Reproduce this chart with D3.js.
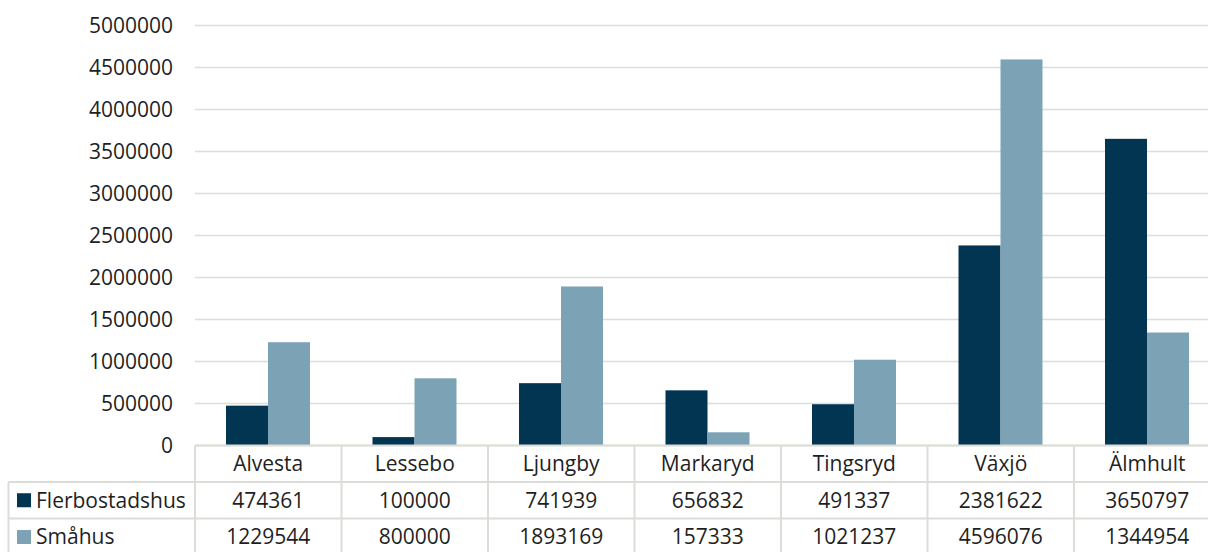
<!DOCTYPE html>
<html><head><meta charset="utf-8">
<script src="https://cdn.jsdelivr.net/npm/d3@7"></script>
<style>body{margin:0;background:#fff;overflow:hidden}svg{display:block}</style>
</head><body><svg id="c" width="1208" height="552"></svg>
<script>
const categories = ["Alvesta","Lessebo","Ljungby","Markaryd","Tingsryd","Växjö","Älmhult"];
const seriesNames = ["Flerbostadshus","Småhus"];
const flerbostadshus = [474361,100000,741939,656832,491337,2381622,3650797];
const smahus = [1229544,800000,1893169,157333,1021237,4596076,1344954];
const yTicks = [0,500000,1000000,1500000,2000000,2500000,3000000,3500000,4000000,4500000,5000000];
const colors = ["#023552","#7ca3b5"];
const seriesValues = [flerbostadshus, smahus];

const svg = d3.select("#c");
const font = "'Open Sans', sans-serif";
const fs = 21;
const textColor = "#1f1f1f";
const gridColor = "#dcdcd8";

const left = 195, cellW = 146.5;
const x = d3.scaleBand().domain(categories).range([left, left + cellW*categories.length]).padding(0);
const xs = d3.scaleBand().domain(seriesNames).range([31, cellW-31.5]).padding(0);
const y = d3.scaleLinear().domain([0,5000000]).range([445.5, 25.5]);

// gridlines
svg.append("g").selectAll("line").data(yTicks).join("line")
  .attr("x1", left).attr("x2", 1208)
  .attr("y1", d=>y(d)).attr("y2", d=>y(d))
  .attr("stroke", gridColor).attr("stroke-width", 1.5);

// y labels
svg.append("g").selectAll("text").data(yTicks).join("text")
  .attr("x", 173).attr("y", d=>y(d)).attr("dy","0.35em")
  .attr("text-anchor","end").attr("font-family",font).attr("font-size",fs)
  .attr("fill",textColor).text(d=>d);

// bars
seriesNames.forEach((s,si)=>{
  svg.append("g").selectAll("rect").data(categories).join("rect")
    .attr("x", c=>x(c)+xs(s)).attr("width", xs.bandwidth())
    .attr("y", (c,i)=>y(seriesValues[si][i]))
    .attr("height", (c,i)=>y(0)-y(seriesValues[si][i]))
    .attr("fill", colors[si]);
});

// table
const rowY = [445.5, 482, 518.5, 560];
const tg = svg.append("g");
tg.append("line").attr("x1",left).attr("x2",1208).attr("y1",rowY[0]).attr("y2",rowY[0]).attr("stroke",gridColor).attr("stroke-width",2);
[1,2].forEach(r=>tg.append("line").attr("x1",8.5).attr("x2",1208).attr("y1",rowY[r]).attr("y2",rowY[r]).attr("stroke",gridColor).attr("stroke-width",2));
tg.append("line").attr("x1",8.5).attr("x2",8.5).attr("y1",rowY[1]).attr("y2",552).attr("stroke",gridColor).attr("stroke-width",2);
categories.forEach(c=>{
  tg.append("line").attr("x1",x(c)).attr("x2",x(c)).attr("y1",rowY[0]).attr("y2",552).attr("stroke",gridColor).attr("stroke-width",2);
});
tg.selectAll("text.h").data(categories).join("text").attr("class","h")
  .attr("x", c=>x(c)+cellW/2).attr("y",(rowY[0]+rowY[1])/2).attr("dy","0.35em")
  .attr("text-anchor","middle").attr("font-family",font).attr("font-size",fs).attr("fill",textColor).text(c=>c);
seriesNames.forEach((s,si)=>{
  const ry = si===1 ? 537 : (rowY[1]+rowY[2])/2;
  tg.append("rect").attr("x",17).attr("y",ry-7).attr("width",14).attr("height",14).attr("fill",colors[si]);
  tg.append("text").attr("x",36).attr("y",ry).attr("dy","0.35em").attr("font-family",font).attr("font-size",fs).attr("fill",textColor).text(s);
  tg.selectAll("text.v"+si).data(categories).join("text").attr("class","v"+si)
    .attr("x", c=>x(c)+cellW/2).attr("y",ry).attr("dy","0.35em")
    .attr("text-anchor","middle").attr("font-family",font).attr("font-size",fs).attr("fill",textColor)
    .text((c,i)=>seriesValues[si][i]);
});
</script></body></html>
